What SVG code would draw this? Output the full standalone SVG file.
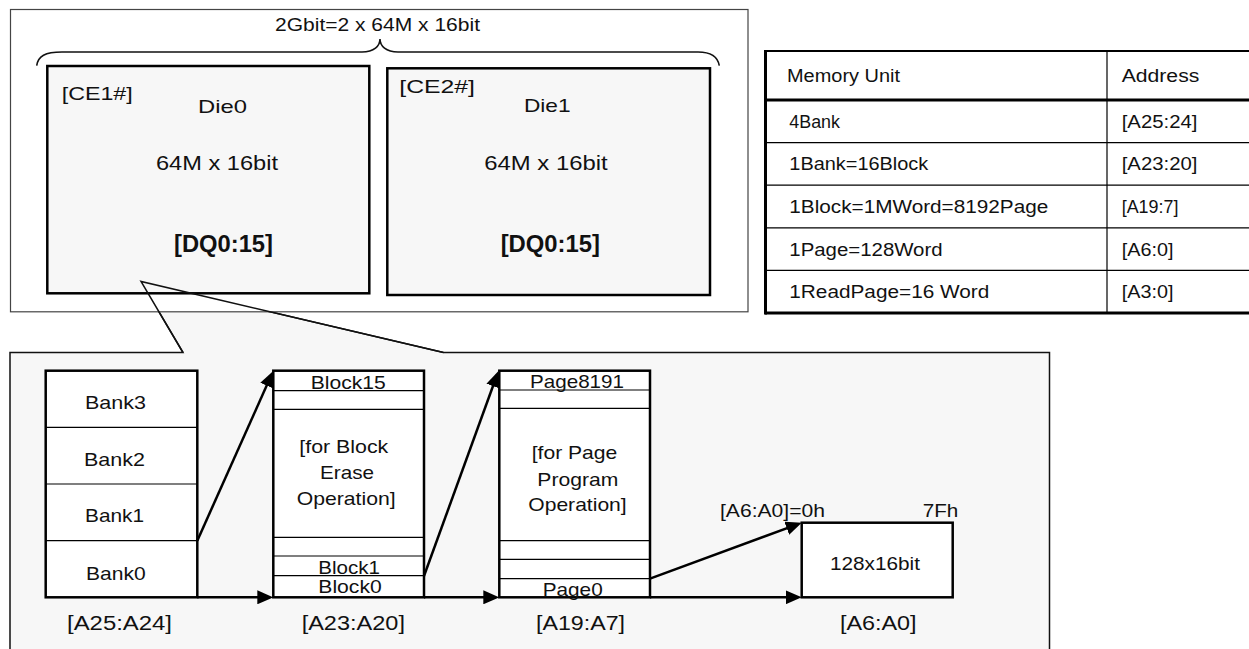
<svg xmlns="http://www.w3.org/2000/svg" width="1249" height="649" viewBox="0 0 1249 649">
<style>
text{font-family:"Liberation Sans",Arial,sans-serif;fill:#111;}
.s{font-size:18.5px;}
.m{font-size:20.5px;}
.b{font-size:23px;font-weight:bold;}
.t{font-size:17.5px;}
.c{text-anchor:middle;}
.thick{fill:#fff;stroke:#000;stroke-width:2.5;}
.die{fill:#f7f7f7;stroke:#000;stroke-width:2.5;}
.thin{stroke:#000;stroke-width:1.2;fill:none;}
.conn{stroke:#000;stroke-width:2.5;fill:none;marker-end:url(#ah);}
</style>
<defs>
<marker id="ah" markerUnits="userSpaceOnUse" viewBox="0 0 16 14" markerWidth="16" markerHeight="14" refX="12" refY="7" orient="auto">
<path d="M0,0 L16,7 L0,14 z" fill="#000"/>
</marker>
</defs>
<rect width="1249" height="649" fill="#fff"/>

<g id="detail-panel">
<polygon points="10,352.5 183,352.5 141,281.5 443.5,352.5 1049.5,352.5 1049.5,660 10,660" fill="#f7f7f7" stroke="#111" stroke-width="1.5"/>
</g>

<g id="package">
<rect x="10.5" y="9.5" width="737.5" height="302.3" fill="#fff" stroke="#444" stroke-width="1.2"/>
<path d="M36.7,65.7 C38,56 45,52 62,52 L362,52 C374,52 380,46 380,39 C380,46 386,52 398,52 L698,52 C712,52 718,58 719.3,65.7" fill="none" stroke="#111" stroke-width="1.6"/>
<text class="s c" x="377.5" y="31" textLength="205" lengthAdjust="spacingAndGlyphs">2Gbit=2 x 64M x 16bit</text>
</g>

<g id="die0">
<rect class="die" x="47.3" y="66" width="322" height="227.3"/>
<text class="s" x="61.7" y="100" textLength="71" lengthAdjust="spacingAndGlyphs">[CE1#]</text>
<text class="s c" x="222.5" y="113.3" textLength="49" lengthAdjust="spacingAndGlyphs">Die0</text>
<text class="m c" x="217" y="170" textLength="122" lengthAdjust="spacingAndGlyphs">64M x 16bit</text>
<text class="b c" x="223.5" y="252" textLength="99" lengthAdjust="spacingAndGlyphs">[DQ0:15]</text>
</g>

<g id="die1">
<rect class="die" x="387.3" y="68.3" width="322.7" height="226.7"/>
<text class="s" x="399.3" y="93.3" textLength="75.7" lengthAdjust="spacingAndGlyphs">[CE2#]</text>
<text class="s c" x="547.3" y="112.3" textLength="46.7" lengthAdjust="spacingAndGlyphs">Die1</text>
<text class="m c" x="546" y="170" textLength="123.4" lengthAdjust="spacingAndGlyphs">64M x 16bit</text>
<text class="b c" x="550.3" y="252" textLength="99.3" lengthAdjust="spacingAndGlyphs">[DQ0:15]</text>
</g>

<g id="callout">
<path d="M183,352.5 L141,281.5 L443.5,352.5" fill="none" stroke="#111" stroke-width="1.5"/>
</g>

<g id="address-table">
<rect x="765" y="51" width="490" height="262" fill="#fff"/>
<line x1="765" y1="51" x2="1249" y2="51" stroke="#000" stroke-width="1.8"/>
<line x1="765" y1="100" x2="1249" y2="100" stroke="#000" stroke-width="3"/>
<line x1="765" y1="142.6" x2="1249" y2="142.6" class="thin"/>
<line x1="765" y1="185.2" x2="1249" y2="185.2" class="thin"/>
<line x1="765" y1="227.8" x2="1249" y2="227.8" class="thin"/>
<line x1="765" y1="270.4" x2="1249" y2="270.4" class="thin"/>
<line x1="765" y1="313" x2="1249" y2="313" stroke="#000" stroke-width="3"/>
<line x1="765.5" y1="50" x2="765.5" y2="314.5" stroke="#000" stroke-width="3"/>
<line x1="1107" y1="51" x2="1107" y2="313" class="thin"/>
<text class="t" x="787" y="82" textLength="113" lengthAdjust="spacingAndGlyphs">Memory Unit</text>
<text class="t" x="1121.7" y="82" textLength="77.6" lengthAdjust="spacingAndGlyphs">Address</text>
<text class="t" x="789.3" y="127.8" textLength="50.7" lengthAdjust="spacingAndGlyphs">4Bank</text>
<text class="t" x="789.3" y="170.4" textLength="139" lengthAdjust="spacingAndGlyphs">1Bank=16Block</text>
<text class="t" x="789.3" y="213" textLength="259" lengthAdjust="spacingAndGlyphs">1Block=1MWord=8192Page</text>
<text class="t" x="789.3" y="255.6" textLength="153.3" lengthAdjust="spacingAndGlyphs">1Page=128Word</text>
<text class="t" x="789.3" y="298.2" textLength="200" lengthAdjust="spacingAndGlyphs">1ReadPage=16 Word</text>
<text class="t" x="1121.7" y="127.8" textLength="75.7" lengthAdjust="spacingAndGlyphs">[A25:24]</text>
<text class="t" x="1121.7" y="170.4" textLength="75.7" lengthAdjust="spacingAndGlyphs">[A23:20]</text>
<text class="t" x="1121.7" y="213" textLength="56.7" lengthAdjust="spacingAndGlyphs">[A19:7]</text>
<text class="t" x="1121.7" y="255.6" textLength="51.7" lengthAdjust="spacingAndGlyphs">[A6:0]</text>
<text class="t" x="1121.7" y="298.2" textLength="51.7" lengthAdjust="spacingAndGlyphs">[A3:0]</text>
</g>

<g id="bank-stack">
<rect class="thick" x="45.7" y="370.7" width="151.6" height="226.6"/>
<line class="thin" x1="45.7" y1="427.3" x2="197.3" y2="427.3"/>
<line class="thin" x1="45.7" y1="484" x2="197.3" y2="484"/>
<line class="thin" x1="45.7" y1="540.7" x2="197.3" y2="540.7"/>
<text class="s c" x="115.5" y="409.3" textLength="61" lengthAdjust="spacingAndGlyphs">Bank3</text>
<text class="s c" x="114.5" y="465.7" textLength="61" lengthAdjust="spacingAndGlyphs">Bank2</text>
<text class="s c" x="114.5" y="522.3" textLength="59" lengthAdjust="spacingAndGlyphs">Bank1</text>
<text class="s c" x="115.8" y="580" textLength="59.7" lengthAdjust="spacingAndGlyphs">Bank0</text>
<text class="m c" x="119.5" y="629.5" textLength="105" lengthAdjust="spacingAndGlyphs">[A25:A24]</text>
</g>

<g id="block-stack">
<rect class="thick" x="273.3" y="370.7" width="150.7" height="226.6"/>
<line class="thin" x1="273.3" y1="390.7" x2="424" y2="390.7"/>
<line class="thin" x1="273.3" y1="409.3" x2="424" y2="409.3"/>
<line class="thin" x1="273.3" y1="537.3" x2="424" y2="537.3"/>
<line class="thin" x1="273.3" y1="556" x2="424" y2="556"/>
<line class="thin" x1="273.3" y1="575.7" x2="424" y2="575.7"/>
<text class="s c" x="348.2" y="389" textLength="75" lengthAdjust="spacingAndGlyphs">Block15</text>
<text class="s c" x="343.8" y="453.3" textLength="89" lengthAdjust="spacingAndGlyphs">[for Block</text>
<text class="s c" x="347" y="479.3" textLength="54" lengthAdjust="spacingAndGlyphs">Erase</text>
<text class="s c" x="346.2" y="505" textLength="99" lengthAdjust="spacingAndGlyphs">Operation]</text>
<text class="s c" x="349.2" y="574" textLength="61.7" lengthAdjust="spacingAndGlyphs">Block1</text>
<text class="s c" x="350" y="592.7" textLength="63.4" lengthAdjust="spacingAndGlyphs">Block0</text>
<text class="m c" x="353.3" y="629.5" textLength="103.3" lengthAdjust="spacingAndGlyphs">[A23:A20]</text>
</g>

<g id="page-stack">
<rect class="thick" x="499.3" y="370.7" width="150.7" height="226.6"/>
<line class="thin" x1="499.3" y1="390" x2="650" y2="390"/>
<line class="thin" x1="499.3" y1="408.3" x2="650" y2="408.3"/>
<line class="thin" x1="499.3" y1="540.7" x2="650" y2="540.7"/>
<line class="thin" x1="499.3" y1="559.3" x2="650" y2="559.3"/>
<line class="thin" x1="499.3" y1="578.7" x2="650" y2="578.7"/>
<text class="s c" x="577" y="388.3" textLength="94" lengthAdjust="spacingAndGlyphs">Page8191</text>
<text class="s c" x="574.5" y="459.3" textLength="85.6" lengthAdjust="spacingAndGlyphs">[for Page</text>
<text class="s c" x="577.8" y="485.7" textLength="81" lengthAdjust="spacingAndGlyphs">Program</text>
<text class="s c" x="577.5" y="510.7" textLength="98.4" lengthAdjust="spacingAndGlyphs">Operation]</text>
<text class="s c" x="572.7" y="596" textLength="60" lengthAdjust="spacingAndGlyphs">Page0</text>
<text class="m c" x="580.5" y="629.5" textLength="89" lengthAdjust="spacingAndGlyphs">[A19:A7]</text>
</g>

<g id="word-box">
<rect class="thick" x="801.7" y="522.7" width="151" height="74.6"/>
<text class="s c" x="875" y="570" textLength="90" lengthAdjust="spacingAndGlyphs">128x16bit</text>
<text class="s" x="720" y="517.3" textLength="105" lengthAdjust="spacingAndGlyphs">[A6:A0]=0h</text>
<text class="s" x="922.7" y="517.3" textLength="35.6" lengthAdjust="spacingAndGlyphs">7Fh</text>
<text class="m c" x="878.3" y="629.5" textLength="76.7" lengthAdjust="spacingAndGlyphs">[A6:A0]</text>
</g>

<g id="connectors">
<path class="conn" d="M197.3,540.7 L271.6,374.6"/>
<path class="conn" d="M197.3,597.3 L269.3,597.3"/>
<path class="conn" d="M424,576 L497.1,374.8"/>
<path class="conn" d="M424,597.3 L495.3,597.3"/>
<path class="conn" d="M650,578.7 L798,524.1"/>
<path class="conn" d="M650,597.3 L797.7,597.3"/>
</g>
</svg>
